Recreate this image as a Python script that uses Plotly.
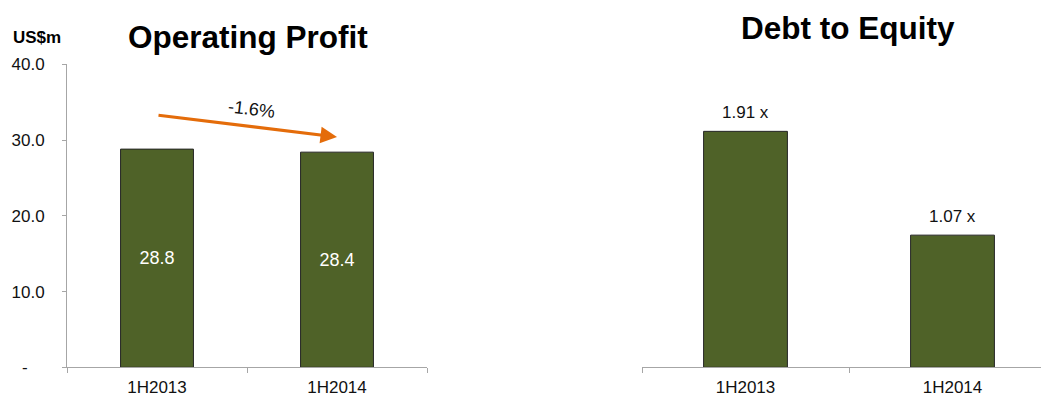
import plotly.graph_objects as go

# Half-year periods shown on both panels
periods = ["1H2013", "1H2014"]

# Operating profit, US$ millions
operating_profit = [28.8, 28.4]
profit_labels = ["28.8", "28.4"]

# Debt to equity ratio
debt_to_equity = [1.91, 1.07]
dte_labels = ["1.91 x", "1.07 x"]

# Y-axis ticks for the profit panel
profit_tickvals = [0, 10, 20, 30, 40]
profit_ticktext = ["-\u2002\u2002", "10.0", "20.0", "30.0", "40.0"]

change_label = "-1.6%"

BAR = "#4F6228"
EDGE = "#262626"
AXIS = "#A6A6A6"
FONT = "Liberation Sans, Arial, sans-serif"

W, H = 1041, 404

fig = go.Figure()

fig.add_trace(go.Bar(
    x=periods, y=operating_profit, text=profit_labels,
    textposition="inside", insidetextanchor="middle",
    textfont=dict(color="white", size=18, family=FONT),
    marker=dict(color=BAR, line=dict(color=EDGE, width=1)),
    width=0.405, xaxis="x", yaxis="y", showlegend=False,
    hoverinfo="x+y",
))

fig.add_trace(go.Bar(
    x=periods, y=debt_to_equity,
    marker=dict(color=BAR, line=dict(color=EDGE, width=1)),
    width=0.405, xaxis="x2", yaxis="y2", showlegend=False,
    hoverinfo="x+y",
))

y_bottom = 1 - 376 / H
y_top = 1 - 58 / H

tick_font = dict(size=17, color="#111111", family=FONT)

fig.update_layout(
    width=W, height=H,
    margin=dict(l=0, r=0, t=0, b=0),
    paper_bgcolor="white", plot_bgcolor="white",
    font=dict(family=FONT, color="#111111"),
    uniformtext=dict(minsize=8, mode="show"),
    xaxis=dict(
        domain=[67 / W, 427 / W], anchor="y",
        type="category", range=[-0.5, 1.5],
        showline=True, linecolor=AXIS, linewidth=1,
        ticks="outside", tickson="boundaries", ticklen=5, tickcolor=AXIS,
        ticklabelstandoff=4,
        showgrid=False, tickfont=tick_font,
    ),
    yaxis=dict(
        domain=[y_bottom, y_top], anchor="x",
        range=[0, 40], tickvals=profit_tickvals, ticktext=profit_ticktext,
        showline=True, linecolor=AXIS, linewidth=1,
        ticks="outside", ticklen=4, tickcolor=AXIS,
        ticklabelstandoff=14,
        showgrid=False, zeroline=False,
        tickfont=tick_font,
    ),
    xaxis2=dict(
        domain=[642 / W, 1.0], anchor="y2",
        type="category", range=[-0.5, -0.5 + 399 / 207],
        showline=True, linecolor=AXIS, linewidth=1,
        ticks="outside", tickson="boundaries", ticklen=5, tickcolor=AXIS,
        ticklabelstandoff=4,
        showgrid=False, tickfont=tick_font,
    ),
    yaxis2=dict(
        domain=[y_bottom, y_top], anchor="x2",
        range=[0, 2.453], visible=False,
    ),
    bargap=0.6,
)

annotations = [
    dict(text="<b>Operating Profit</b>", x=248 / W, y=1 - 29 / H,
         xref="paper", yref="paper", xanchor="center", yanchor="middle",
         showarrow=False, font=dict(size=31.5, color="#000000", family=FONT)),
    dict(text="<b>Debt to Equity</b>", x=848 / W, y=1 - 19.5 / H,
         xref="paper", yref="paper", xanchor="center", yanchor="middle",
         showarrow=False, font=dict(size=31.5, color="#000000", family=FONT)),
    dict(text="<b>US$m</b>", x=37 / W, y=1 - 30 / H,
         xref="paper", yref="paper", xanchor="center", yanchor="middle",
         showarrow=False, font=dict(size=17, color="#000000", family=FONT)),
    # Trend arrow between the two profit bars
    dict(x=periods[1], y=30.4, ax=periods[0], ay=33.3,
         xref="x", yref="y", axref="x", ayref="y",
         text="", showarrow=True, arrowhead=2, arrowsize=1.1,
         arrowwidth=3, arrowcolor="#E46C0A", standoff=0, startstandoff=0),
    dict(text=change_label, x=251 / W, y=1 - 105 / H,
         xref="paper", yref="paper", xanchor="center", yanchor="middle",
         textangle=7, showarrow=False,
         font=dict(size=18, color="#111111", family=FONT)),
]

# Value labels above the debt-to-equity bars
for p, v, lab in zip(periods, debt_to_equity, dte_labels):
    annotations.append(dict(
        text=lab, x=p, y=v, xref="x2", yref="y2",
        xanchor="center", yanchor="bottom", yshift=7, showarrow=False,
        font=dict(size=17, color="#111111", family=FONT)))

fig.update_layout(annotations=annotations)

fig.write_html("out.html")
